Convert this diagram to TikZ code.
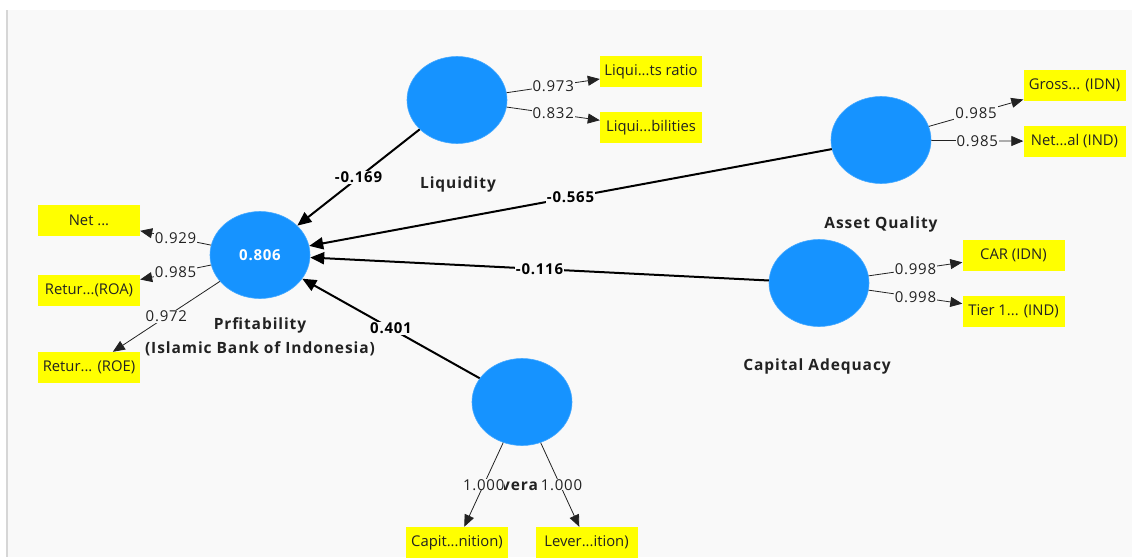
\documentclass[tikz,border=0pt]{standalone}
\usepackage{fontspec}
\setmainfont{Open Sans}
\newfontfamily\lblfont[LetterSpace=6]{Open Sans}
\newfontfamily\numfont[LetterSpace=5]{Open Sans}
\usetikzlibrary{shapes.geometric,arrows.meta}
\definecolor{panel}{HTML}{F9F9F9}
\definecolor{edgegray}{HTML}{D6D6D6}
\definecolor{lvblue}{RGB}{22,147,255}
\definecolor{indyellow}{RGB}{255,255,0}
\definecolor{txt}{HTML}{222222}
\begin{document}
\begin{tikzpicture}[x=1pt,y=-1pt,
  construct/.style={ellipse,fill=lvblue,draw=lvblue!80!white,line width=0.6pt,minimum width=100pt,minimum height=87pt,inner sep=0pt,text=white,font=\numfont\fontsize{15}{16}\selectfont\bfseries},
  ind/.style={rectangle,fill=indyellow,minimum width=102pt,minimum height=31pt,inner sep=0pt,text=txt,font=\fontsize{14.8}{16}\selectfont},
  lvname/.style={text=txt,font=\lblfont\fontsize{15.5}{24}\selectfont\bfseries,align=center},
  outer/.style={draw=txt,line width=0.8pt,-{Triangle[length=12pt,width=10pt]}},
  inner/.style={draw=black,line width=2pt,-{Triangle[length=14pt,width=12pt]}},
  wlab/.style={fill=panel,inner sep=1pt,text=txt,font=\numfont\fontsize{15}{16}\selectfont},
  plab/.style={fill=panel,inner sep=1pt,text=black,font=\numfont\fontsize{15}{16}\selectfont\bfseries}
]
\useasboundingbox (0,0) rectangle (1132,557);
\fill[white] (0,0) rectangle (1132,557);
\fill[panel] (7,10) rectangle (1132,557);
\draw[edgegray,line width=1.5pt] (7,10) -- (7,557);

% constructs
\node[construct] (prof) at (260,255) {0.806};
\node[construct] (liq) at (457,100) {};
\node[construct] (aq) at (881,140) {};
\node[construct] (cap) at (819,283) {};
\node[construct] (lev) at (522,402) {};

% construct names
\node[lvname] (profname) at (260,337) {Prfitability\\(Islamic Bank of Indonesia)};
\node[lvname] (liqname) at (458,184) {Liquidity};
\node[lvname] (aqname) at (881,224) {Asset Quality};
\node[lvname] (capname) at (817,366) {Capital Adequacy};
\node[lvname,inner sep=0pt] (levname) at (519.5,486) {vera};

% indicators
\node[ind] (net) at (89,220.5) {Net ...};
\node[ind] (roa) at (89,290) {Retur...(ROA)};
\node[ind] (roe) at (89,367.5) {Retur... (ROE)};
\node[ind] (ltr) at (651,71.5) {Liqui...ts ratio};
\node[ind] (lbi) at (651,127.5) {Liqui...bilities};
\node[ind] (gross) at (1074.5,85) {Gross... (IDN)};
\node[ind] (netal) at (1074.5,141.5) {Net...al (IND)};
\node[ind] (car) at (1013.5,255) {CAR (IDN)};
\node[ind] (tier) at (1013.5,311) {Tier 1... (IND)};
\node[ind] (capit) at (457,542.5) {Capit...nition)};
\node[ind] (lever) at (586.5,542.5) {Lever...ition)};

% outer loadings
\draw[outer] (prof) -- node[wlab,pos=0.5] {0.929} (net);
\draw[outer] (prof) -- node[wlab,pos=0.5] {0.985} (roa);
\draw[outer] (prof) -- node[wlab,pos=0.5] {0.972} (roe);
\draw[outer] (liq) -- node[wlab,pos=0.5] {0.973} (ltr);
\draw[outer] (liq) -- node[wlab,pos=0.5] {0.832} (lbi);
\draw[outer] (aq) -- node[wlab,pos=0.5] {0.985} (gross);
\draw[outer] (aq) -- node[wlab,pos=0.5] {0.985} (netal);
\draw[outer] (cap) -- node[wlab,pos=0.5] {0.998} (car);
\draw[outer] (cap) -- node[wlab,pos=0.5] {0.998} (tier);
\draw[outer] (lev) -- node[wlab,pos=0.5,inner sep=0pt] {1.000} (capit);
\draw[outer] (lev) -- node[wlab,pos=0.5,inner sep=0pt,xshift=1.5pt] {1.000} (lever);

% inner paths
\draw[inner] (liq) -- node[plab,pos=0.5] {-0.169} (prof);
\draw[inner] (aq) -- node[plab,pos=0.5] {-0.565} (prof);
\draw[inner] (cap) -- node[plab,pos=0.5] {-0.116} (prof);
\draw[inner] (lev) -- node[plab,pos=0.5] {0.401} (prof);
\end{tikzpicture}
\end{document}
